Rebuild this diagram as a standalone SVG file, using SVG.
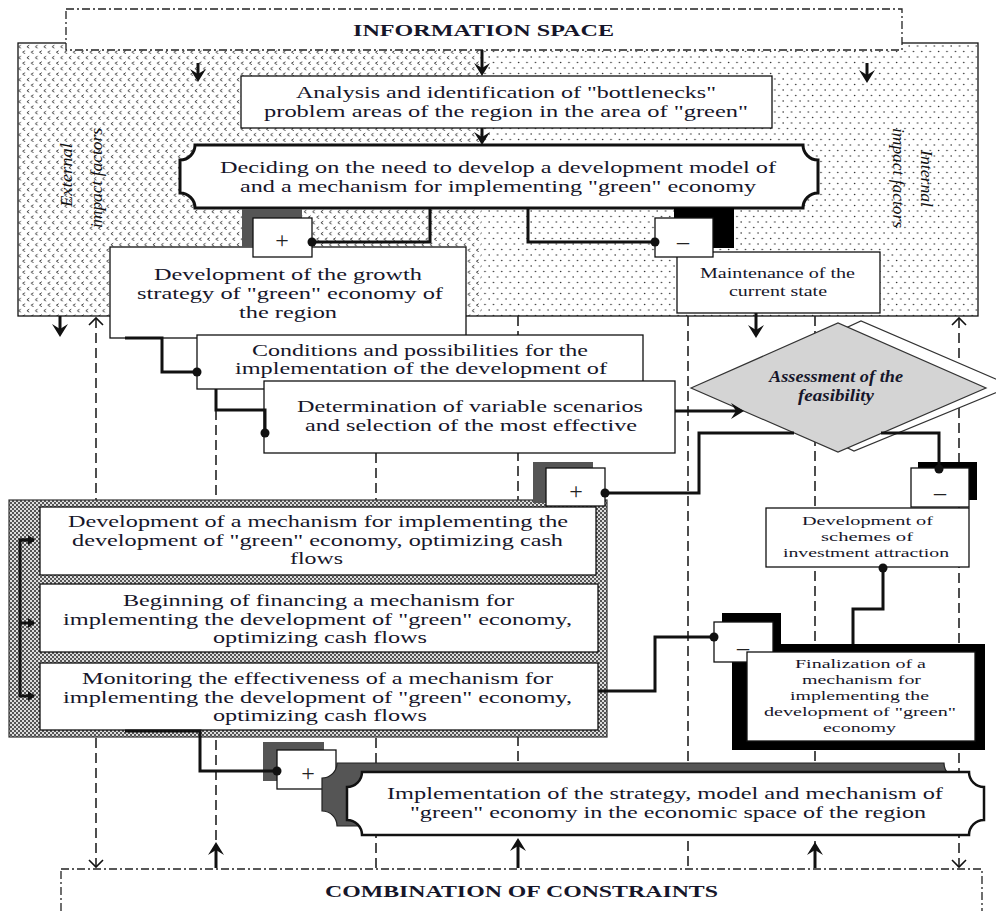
<svg xmlns="http://www.w3.org/2000/svg" width="996" height="911" viewBox="0 0 996 911">
<style>
.t{font-family:"Liberation Serif","Times New Roman",serif;font-size:17px;fill:#16162a}
.s{font-size:15px}
.sm{font-size:13.5px}
.b{font-weight:bold}
.v{font-family:"Liberation Serif","Times New Roman",serif;font-size:16px;font-style:italic;fill:#111}
.box{fill:#fff;stroke:#111;stroke-width:1.3}
.dd{fill:#fff;stroke:#222;stroke-width:1.3;stroke-dasharray:8 3 2 3}
.gd{fill:none;stroke:#222;stroke-width:1.6;stroke-dasharray:10 5}
.c{fill:none;stroke:#111;stroke-width:3}
.dot{fill:#111}
.pm{font-family:"Liberation Serif","Times New Roman",serif;font-size:24px;fill:#222}
</style>
<defs>
<pattern id="pChev" width="8.4" height="11" patternUnits="userSpaceOnUse"><path d="M4,1.2 L1.8,2.7 L4,4.2 M8.2,6.7 L6,8.2 L8.2,9.7" fill="none" stroke="#333" stroke-width="0.9"/></pattern>
<pattern id="pDot" width="8.4" height="11" patternUnits="userSpaceOnUse"><circle cx="2" cy="2" r="0.8" fill="#333"/><circle cx="6.2" cy="7.5" r="0.8" fill="#333"/></pattern>
<pattern id="pChk" width="4" height="4" patternUnits="userSpaceOnUse"><rect width="4" height="4" fill="#ddd"/><rect width="2" height="2" fill="#555"/><rect x="2" y="2" width="2" height="2" fill="#555"/></pattern>
<marker id="mb" viewBox="-10 -10 16 20" markerWidth="16" markerHeight="20" refX="0" refY="0" orient="auto" markerUnits="userSpaceOnUse"><path d="M5,0 L-8,-8 L-3,0 L-8,8 Z" fill="#111"/></marker>
<marker id="mo" viewBox="-9 -9 11 18" markerWidth="11" markerHeight="18" refX="0" refY="0" orient="auto-start-reverse" markerUnits="userSpaceOnUse"><path d="M-7,-7 L0,0 L-7,7" fill="none" stroke="#111" stroke-width="1.6"/></marker>
<marker id="ms" viewBox="-8 -6 10 12" markerWidth="10" markerHeight="12" refX="0" refY="0" orient="auto" markerUnits="userSpaceOnUse"><path d="M1,0 L-6,-5 L-6,5 Z" fill="#111"/></marker>
</defs>
<rect width="996" height="911" fill="#fff"/>

<g id="impact-factors-zone">
<rect x="18" y="43" width="463" height="273" fill="url(#pChev)"/>
<rect x="481" y="43" width="497" height="273" fill="url(#pDot)"/>
<rect x="18" y="43" width="960" height="273" fill="none" stroke="#111" stroke-width="1.3"/>
<text class="v" transform="translate(72,207) rotate(-90)" textLength="64" lengthAdjust="spacingAndGlyphs">External</text>
<text class="v" transform="translate(102,228) rotate(-90)" textLength="100" lengthAdjust="spacingAndGlyphs">impact factors</text>
<text class="v" transform="translate(921,150) rotate(90)" textLength="57" lengthAdjust="spacingAndGlyphs">Internal</text>
<text class="v" transform="translate(893,128) rotate(90)" textLength="100" lengthAdjust="spacingAndGlyphs">impact factors</text>
</g>

<g id="information-space">
<rect class="dd" x="66" y="9" width="836" height="41"/>
<text class="t b" x="353" y="36" textLength="261" lengthAdjust="spacingAndGlyphs">INFORMATION SPACE</text>
</g>

<g id="combination-of-constraints">
<rect class="dd" x="61" y="869" width="921" height="60"/>
<text class="t b" x="325" y="897" textLength="393" lengthAdjust="spacingAndGlyphs">COMBINATION OF CONSTRAINTS</text>
</g>

<g id="guides">
<path class="gd" d="M96,318 V867" marker-start="url(#mo)" marker-end="url(#mo)"/>
<path class="gd" d="M216,410 V845"/>
<path class="gd" d="M376,453 V868"/>
<path class="gd" d="M518,316 V842"/>
<path class="gd" d="M688,316 V868"/>
<path class="gd" d="M815,316 V845"/>
<path class="gd" d="M959,318 V867" marker-start="url(#mo)" marker-end="url(#mo)"/>
</g>

<g id="analysis">
<rect class="box" x="241" y="76" width="531" height="52" stroke-width="1.6"/>
<text class="t" x="296" y="98" textLength="420" lengthAdjust="spacingAndGlyphs">Analysis and identification of "bottlenecks"</text>
<text class="t" x="264" y="117" textLength="484" lengthAdjust="spacingAndGlyphs">problem areas of the region in the area of "green"</text>
</g>

<g id="deciding">
<path d="M195,145 H803 A15 15 0 0 0 818,160 V193 A15 15 0 0 0 803,208 H195 A15 15 0 0 0 180,193 V160 A15 15 0 0 0 195,145 Z" fill="#fff" stroke="#111" stroke-width="3"/>
<text class="t" x="220" y="173" textLength="556" lengthAdjust="spacingAndGlyphs">Deciding on the need to develop a development model of</text>
<text class="t" x="240" y="192" textLength="516" lengthAdjust="spacingAndGlyphs">and a mechanism for implementing "green" economy</text>
</g>

<g id="growth-strategy">
<rect class="box" x="110" y="247" width="356" height="91"/>
<text class="t" x="154" y="280" textLength="268" lengthAdjust="spacingAndGlyphs">Development of the growth</text>
<text class="t" x="137" y="299" textLength="306" lengthAdjust="spacingAndGlyphs">strategy of "green" economy of</text>
<text class="t" x="239" y="318" textLength="98" lengthAdjust="spacingAndGlyphs">the region</text>
</g>

<g id="plus-decision">
<rect x="242" y="209" width="60" height="38" fill="#555"/>
<rect class="box" x="253" y="218" width="59" height="39"/>
<text class="pm" x="282" y="248" text-anchor="middle">+</text>
</g>

<g id="maintenance">
<rect class="box" x="677" y="252" width="203" height="61"/>
<text class="t s" x="700" y="278" textLength="155" lengthAdjust="spacingAndGlyphs">Maintenance of the</text>
<text class="t s" x="729" y="296" textLength="98" lengthAdjust="spacingAndGlyphs">current state</text>
</g>

<g id="minus-decision">
<rect x="674" y="208" width="60" height="40" fill="#000"/>
<rect class="box" x="655" y="218" width="58" height="39"/>
<text class="pm" x="683" y="249" text-anchor="middle">–</text>
</g>

<g id="conditions">
<rect class="box" x="197" y="335" width="446" height="54"/>
<text class="t" x="252" y="356" textLength="336" lengthAdjust="spacingAndGlyphs">Conditions and possibilities for the</text>
<text class="t" x="235" y="374" textLength="372" lengthAdjust="spacingAndGlyphs">implementation of the development of</text>
</g>

<g id="determination">
<rect class="box" x="264" y="381" width="411" height="72"/>
<text class="t" x="297" y="412" textLength="346" lengthAdjust="spacingAndGlyphs">Determination of variable scenarios</text>
<text class="t" x="305" y="431" textLength="332" lengthAdjust="spacingAndGlyphs">and selection of the most effective</text>
</g>

<g id="assessment">
<polygon points="720,386 861,321 1012,386 854,451" fill="#fff" stroke="#333" stroke-width="1.2"/>
<polygon points="691,388 838,323 986,388 838,452" fill="#d4d4d4" stroke="#333" stroke-width="1.2"/>
<text class="t b" x="769" y="382" font-size="12" font-style="italic" textLength="134" lengthAdjust="spacingAndGlyphs">Assessment of the</text>
<text class="t b" x="798" y="401" font-size="12" font-style="italic" textLength="76" lengthAdjust="spacingAndGlyphs">feasibility</text>
</g>

<g id="mechanism-panel">
<rect x="9" y="500" width="598" height="237" fill="url(#pChk)" stroke="#333" stroke-width="1.2"/>
<rect class="box" x="40" y="507" width="556" height="68"/>
<text class="t" x="68" y="527" textLength="500" lengthAdjust="spacingAndGlyphs">Development of a mechanism for implementing the</text>
<text class="t" x="72" y="546" textLength="491" lengthAdjust="spacingAndGlyphs">development of "green" economy, optimizing cash</text>
<text class="t" x="290" y="564" textLength="53" lengthAdjust="spacingAndGlyphs">flows</text>
<rect class="box" x="40" y="584" width="558" height="68"/>
<text class="t" x="123" y="606" textLength="391" lengthAdjust="spacingAndGlyphs">Beginning of financing a mechanism for</text>
<text class="t" x="63" y="625" textLength="509" lengthAdjust="spacingAndGlyphs">implementing the development of "green" economy,</text>
<text class="t" x="213" y="643" textLength="214" lengthAdjust="spacingAndGlyphs">optimizing cash flows</text>
<rect class="box" x="40" y="663" width="558" height="67"/>
<text class="t" x="82" y="684" textLength="471" lengthAdjust="spacingAndGlyphs">Monitoring the effectiveness of a mechanism for</text>
<text class="t" x="63" y="703" textLength="509" lengthAdjust="spacingAndGlyphs">implementing the development of "green" economy,</text>
<text class="t" x="213" y="721" textLength="214" lengthAdjust="spacingAndGlyphs">optimizing cash flows</text>
</g>

<g id="plus-mechanism">
<rect x="533" y="462" width="60" height="41" fill="#555"/>
<rect class="box" x="546" y="468" width="59" height="38"/>
<text class="pm" x="576" y="499" text-anchor="middle">+</text>
</g>

<g id="schemes">
<rect class="box" x="766" y="508" width="203" height="59"/>
<text class="t sm" x="802" y="525" textLength="131" lengthAdjust="spacingAndGlyphs">Development of</text>
<text class="t sm" x="821" y="541" textLength="92" lengthAdjust="spacingAndGlyphs">schemes of</text>
<text class="t sm" x="783" y="557" textLength="166" lengthAdjust="spacingAndGlyphs">investment attraction</text>
</g>

<g id="minus-feasibility">
<rect x="918" y="462" width="59" height="38" fill="#000"/>
<rect class="box" x="911" y="468" width="58" height="39"/>
<text class="pm" x="940" y="500" text-anchor="middle">–</text>
</g>

<g id="finalization">
<rect x="732" y="644" width="253" height="106" fill="#000"/>
<rect x="722" y="613" width="59" height="36" fill="#000"/>
<rect class="box" x="714" y="622" width="59" height="40"/>
<text class="pm" x="743" y="655" text-anchor="middle">–</text>
<rect class="box" x="747" y="652" width="228" height="89"/>
<text class="t sm" x="795" y="668" textLength="131" lengthAdjust="spacingAndGlyphs">Finalization of a</text>
<text class="t sm" x="802" y="684" textLength="119" lengthAdjust="spacingAndGlyphs">mechanism for</text>
<text class="t sm" x="790" y="700" textLength="139" lengthAdjust="spacingAndGlyphs">implementing the</text>
<text class="t sm" x="764" y="716" textLength="192" lengthAdjust="spacingAndGlyphs">development of "green"</text>
<text class="t sm" x="823" y="732" textLength="73" lengthAdjust="spacingAndGlyphs">economy</text>
</g>

<g id="plus-implementation">
<rect x="263" y="742" width="61" height="39" fill="#555"/>
<rect class="box" x="277" y="750" width="59" height="39"/>
<text class="pm" x="308" y="781" text-anchor="middle">+</text>
</g>

<g id="implementation">
<path d="M337,763 H944 A15 15 0 0 0 959,778 V811 A15 15 0 0 0 944,826 H337 A15 15 0 0 0 322,811 V778 A15 15 0 0 0 337,763 Z" fill="#555" stroke="#222" stroke-width="1.2"/>
<path d="M362,772 H969 A15 15 0 0 0 984,787 V820 A15 15 0 0 0 969,835 H362 A15 15 0 0 0 347,820 V787 A15 15 0 0 0 362,772 Z" fill="#fff" stroke="#111" stroke-width="2.5"/>
<text class="t" x="387" y="799" textLength="556" lengthAdjust="spacingAndGlyphs">Implementation of the strategy, model and mechanism of</text>
<text class="t" x="410" y="818" textLength="516" lengthAdjust="spacingAndGlyphs">"green" economy in the economic space of the region</text>
</g>

<g id="connectors">
<path class="c" stroke-width="2.5" d="M482,50 V71" marker-end="url(#mb)"/>
<path class="c" stroke-width="2.5" d="M482,128 V140" marker-end="url(#mb)"/>
<path class="c" stroke-width="2.5" d="M198,63 V77" marker-end="url(#mb)"/>
<path class="c" stroke-width="2.5" d="M867,63 V78" marker-end="url(#mb)"/>
<path class="c" stroke-width="2.5" d="M60,316 V332" marker-end="url(#mb)"/>
<path class="c" stroke-width="2.5" d="M756,313 V333" marker-end="url(#mb)"/>
<path class="c" d="M216,868 V847" marker-end="url(#mb)"/>
<path class="c" d="M518,868 V843" marker-end="url(#mb)"/>
<path class="c" d="M815,868 V847" marker-end="url(#mb)"/>
<path class="c" d="M430,208 V242 H312"/>
<circle class="dot" cx="312" cy="242" r="4.5"/>
<path class="c" d="M528,208 V242 H655"/>
<circle class="dot" cx="655" cy="242" r="4.5"/>
<path class="c" d="M125,338 H162 V372 H197"/>
<circle class="dot" cx="197" cy="372" r="4.5"/>
<path class="c" d="M216,389 V410 H265 V433"/>
<circle class="dot" cx="265" cy="433" r="4.5"/>
<path class="c" d="M675,411 H739" marker-end="url(#mb)"/>
<path class="c" stroke-width="2.5" d="M794,433 H699 V493 H605"/>
<circle class="dot" cx="605" cy="493" r="4.5"/>
<path class="c" stroke-width="4" d="M881,433 H939 V469"/>
<circle class="dot" cx="939" cy="469" r="4.5"/>
<path class="c" d="M853,644 V609 H883 V568"/>
<circle class="dot" cx="883" cy="568" r="4.5"/>
<path class="c" stroke-width="2.5" d="M598,691 H655 V637 H714"/>
<circle class="dot" cx="714" cy="637" r="4.5"/>
<path class="c" stroke-width="2.5" d="M34,540 H20 V696 H34" marker-end="url(#ms)"/>
<path class="c" stroke-width="2.5" d="M20,540 H34" marker-end="url(#ms)"/>
<path class="c" stroke-width="2.5" d="M20,623 H34" marker-end="url(#ms)"/>
<path class="c" d="M125,731 H200 V771 H277"/>
<circle class="dot" cx="277" cy="771" r="4.5"/>
</g>
</svg>
